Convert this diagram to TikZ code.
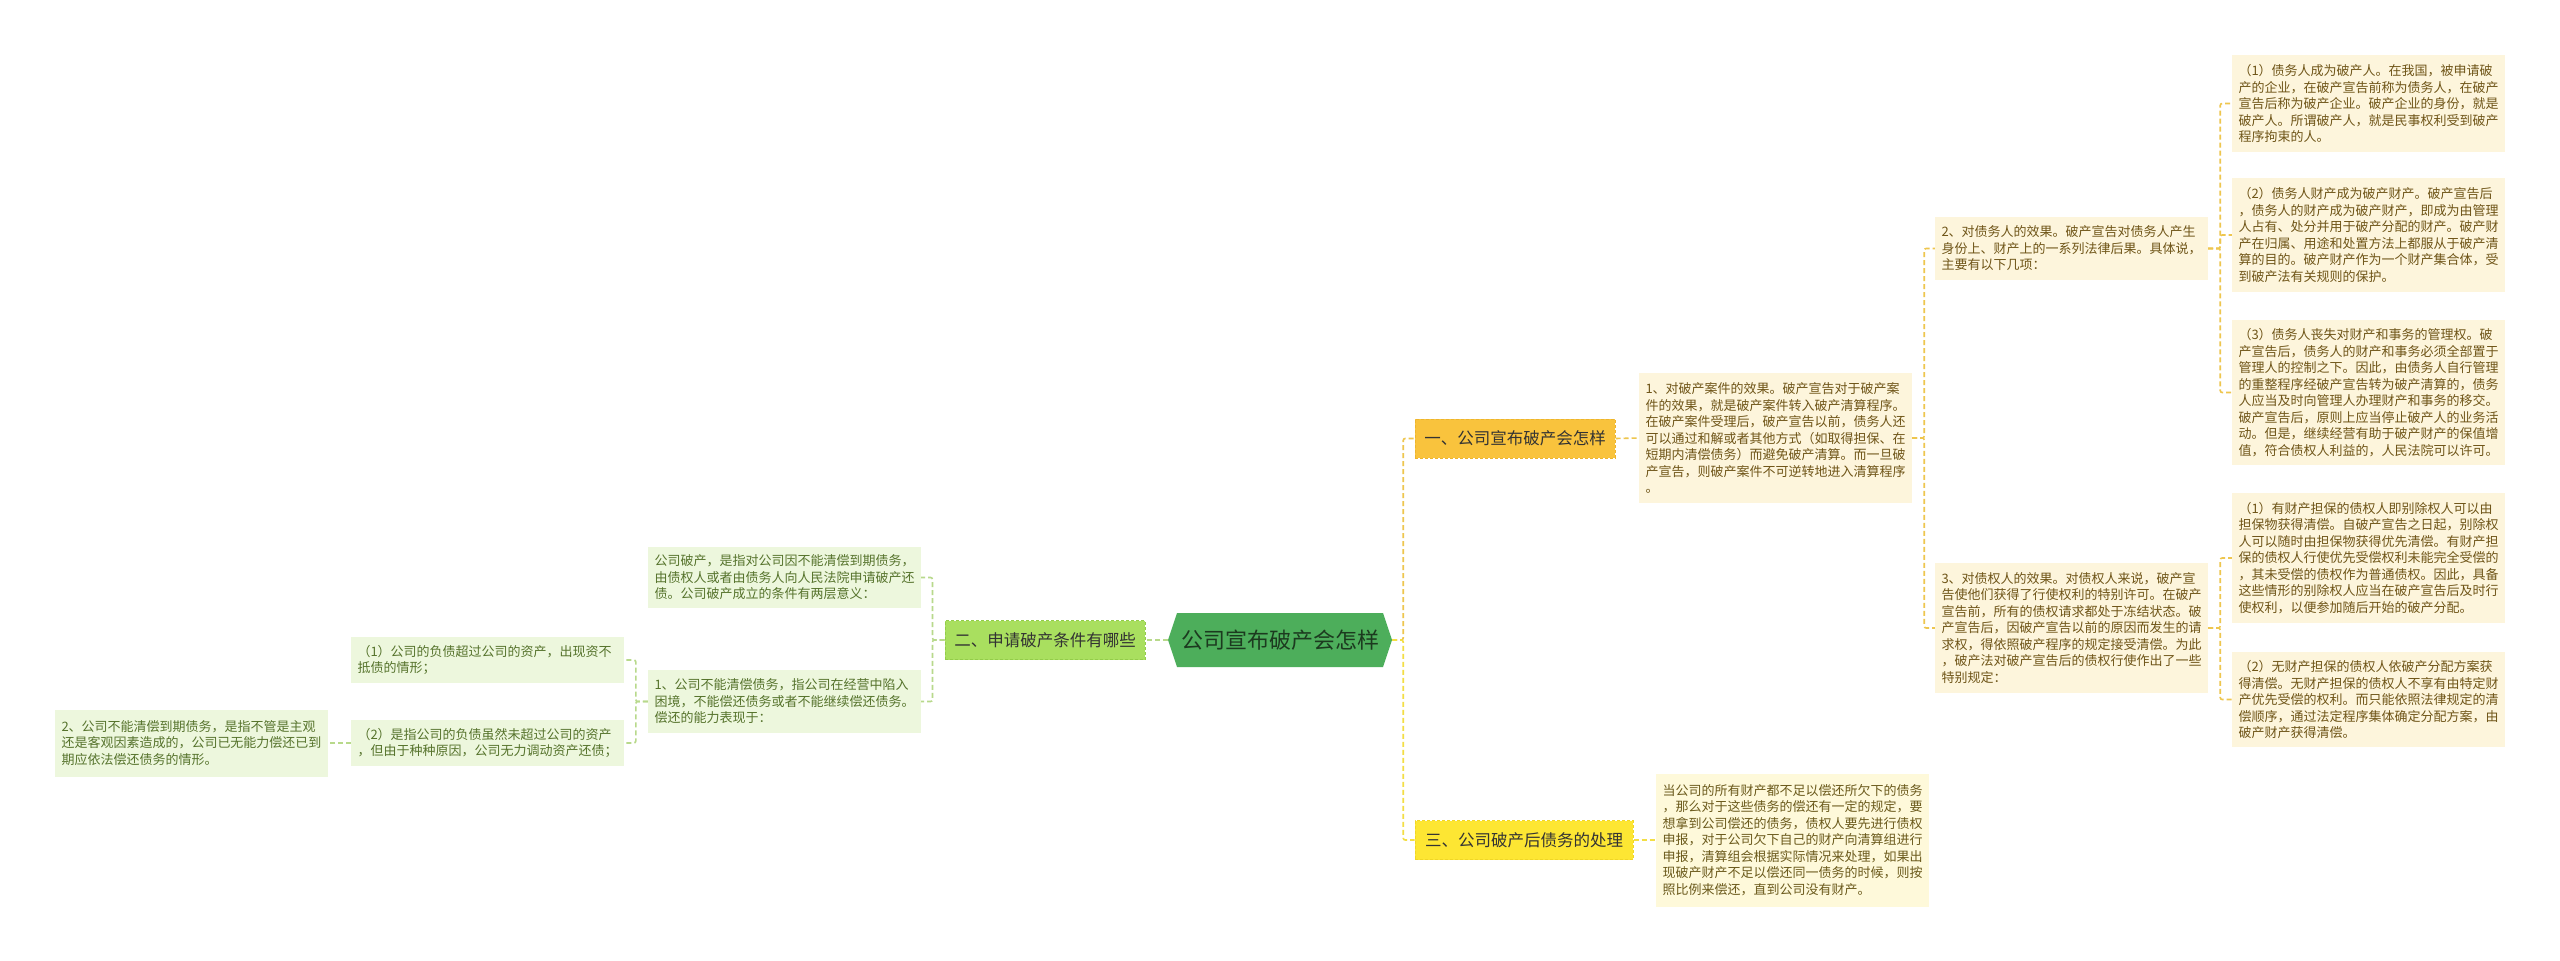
\documentclass[tikz,border=0pt]{standalone}
\usepackage{fontspec}
\setmainfont{Noto Sans CJK SC}
\definecolor{rootgreen}{HTML}{4DAE5B}
\definecolor{roottext}{HTML}{1C3A1F}
\definecolor{orangeY}{HTML}{F9C33D}
\definecolor{orangeB}{HTML}{EDB52E}
\definecolor{yellowF}{HTML}{FDE633}
\definecolor{yellowB}{HTML}{F0D626}
\definecolor{lgreen}{HTML}{A9DF5F}
\definecolor{lgreenB}{HTML}{93CC4A}
\definecolor{cream}{HTML}{FDF5DC}
\definecolor{creamtext}{HTML}{6F5518}
\definecolor{ycream}{HTML}{FEF9DA}
\definecolor{ycreamtext}{HTML}{6B5A1C}
\definecolor{pgreen}{HTML}{EDF7DD}
\definecolor{greentext}{HTML}{56732C}
\definecolor{lineO}{HTML}{EEC64E}
\definecolor{lineY}{HTML}{F3DE45}
\definecolor{lineG}{HTML}{B8D98B}
\begin{document}
\begin{tikzpicture}[x=1pt,y=-1pt,
  conn/.style={line width=1.6pt, dash pattern=on 5pt off 3pt, rounded corners=2pt},
  connO/.style={conn, draw=lineO},
  connY/.style={conn, draw=lineY},
  connG/.style={conn, draw=lineG},
  txtbox/.style={font=\fontsize{13}{16.5}\selectfont, text width=260pt, inner xsep=6.5pt, inner ysep=0pt, align=left, anchor=center},
  rbox/.style={txtbox, fill=cream, text=creamtext},
  ybox/.style={txtbox, fill=ycream, text=ycreamtext},
  gbox/.style={txtbox, fill=pgreen, text=greentext},
  branch/.style={font=\fontsize{16.5}{20}\selectfont, text=black!80, inner sep=0pt, minimum height=39pt, line width=1pt, dash pattern=on 3pt off 2pt},
  rootnode/.style={font=\fontsize{22}{26}\selectfont, text=roottext, inner sep=0pt, minimum width=224pt, minimum height=54pt}
]
\useasboundingbox (0,0) rectangle (2560,961);
\fill[white] (0,0) rectangle (2560,961);

% root hexagon
\fill[rootgreen] (1168,640) -- (1177,613) -- (1383,613) -- (1392,640) -- (1383,667) -- (1177,667) -- cycle;
\node[rootnode] (root) at (1280,640) {公司宣布破产会怎样};

% main branches
\node[branch, fill=orangeY, draw=orangeB, minimum width=200pt] (m1) at (1515,438.5) {一、公司宣布破产会怎样};
\node[branch, fill=lgreen, draw=lgreenB, minimum width=200pt] (m2) at (1045,640) {二、申请破产条件有哪些};
\node[branch, fill=yellowF, draw=yellowB, minimum width=218pt] (m3) at (1524,840) {三、公司破产后债务的处理};

% right side, branch one
\node[rbox, minimum height=130pt] (b1) at (1775.5,438) {1、对破产案件的效果。破产宣告对于破产案\\件的效果，就是破产案件转入破产清算程序。\\在破产案件受理后，破产宣告以前，债务人还\\可以通过和解或者其他方式（如取得担保、在\\短期内清偿债务）而避免破产清算。而一旦破\\产宣告，则破产案件不可逆转地进入清算程序\\。};
\node[rbox, minimum height=63pt] (b2) at (2071.5,248.5) {2、对债务人的效果。破产宣告对债务人产生\\身份上、财产上的一系列法律后果。具体说，\\主要有以下几项：};
\node[rbox, minimum height=130pt] (b3) at (2071.5,628) {3、对债权人的效果。对债权人来说，破产宣\\告使他们获得了行使权利的特别许可。在破产\\宣告前，所有的债权请求都处于冻结状态。破\\产宣告后，因破产宣告以前的原因而发生的请\\求权，得依照破产程序的规定接受清偿。为此\\，破产法对破产宣告后的债权行使作出了一些\\特别规定：};

\node[rbox, minimum height=97pt] (c1) at (2368.5,103.5) {（1）债务人成为破产人。在我国，被申请破\\产的企业，在破产宣告前称为债务人，在破产\\宣告后称为破产企业。破产企业的身份，就是\\破产人。所谓破产人，就是民事权利受到破产\\程序拘束的人。};
\node[rbox, minimum height=114pt] (c2) at (2368.5,235) {（2）债务人财产成为破产财产。破产宣告后\\，债务人的财产成为破产财产，即成为由管理\\人占有、处分并用于破产分配的财产。破产财\\产在归属、用途和处置方法上都服从于破产清\\算的目的。破产财产作为一个财产集合体，受\\到破产法有关规则的保护。};
\node[rbox, minimum height=145pt] (c3) at (2368.5,392.5) {（3）债务人丧失对财产和事务的管理权。破\\产宣告后，债务人的财产和事务必须全部置于\\管理人的控制之下。因此，由债务人自行管理\\的重整程序经破产宣告转为破产清算的，债务\\人应当及时向管理人办理财产和事务的移交。\\破产宣告后，原则上应当停止破产人的业务活\\动。但是，继续经营有助于破产财产的保值增\\值，符合债权人利益的，人民法院可以许可。};
\node[rbox, minimum height=130pt] (c4) at (2368.5,558) {（1）有财产担保的债权人即别除权人可以由\\担保物获得清偿。自破产宣告之日起，别除权\\人可以随时由担保物获得优先清偿。有财产担\\保的债权人行使优先受偿权利未能完全受偿的\\，其未受偿的债权作为普通债权。因此，具备\\这些情形的别除权人应当在破产宣告后及时行\\使权利，以便参加随后开始的破产分配。};
\node[rbox, minimum height=95pt] (c5) at (2368.5,699.5) {（2）无财产担保的债权人依破产分配方案获\\得清偿。无财产担保的债权人不享有由特定财\\产优先受偿的权利。而只能依照法律规定的清\\偿顺序，通过法定程序集体确定分配方案，由\\破产财产获得清偿。};

% right side, branch three
\node[ybox, minimum height=133pt] (t3) at (1792.5,840) {当公司的所有财产都不足以偿还所欠下的债务\\，那么对于这些债务的偿还有一定的规定，要\\想拿到公司偿还的债务，债权人要先进行债权\\申报，对于公司欠下自己的财产向清算组进行\\申报，清算组会根据实际情况来处理，如果出\\现破产财产不足以偿还同一债务的时候，则按\\照比例来偿还，直到公司没有财产。};

% left side
\node[gbox, minimum height=61pt] (l1) at (784.5,577.5) {公司破产，是指对公司因不能清偿到期债务，\\由债权人或者由债务人向人民法院申请破产还\\债。公司破产成立的条件有两层意义：};
\node[gbox, minimum height=63pt] (l2) at (784.5,701.5) {1、公司不能清偿债务，指公司在经营中陷入\\困境，不能偿还债务或者不能继续偿还债务。\\偿还的能力表现于：};
\node[gbox, minimum height=46pt] (l3) at (487.5,660) {（1）公司的负债超过公司的资产，出现资不\\抵债的情形；};
\node[gbox, minimum height=46pt] (l4) at (487.5,743) {（2）是指公司的负债虽然未超过公司的资产\\，但由于种种原因，公司无力调动资产还债；};
\node[gbox, minimum height=67pt] (l5) at (191.5,743) {2、公司不能清偿到期债务，是指不管是主观\\还是客观因素造成的，公司已无能力偿还已到\\期应依法偿还债务的情形。};

% connectors
\draw[connO] (root.east) -- ++(11,0) |- (m1.west);
\draw[connY] (root.east) -- ++(11,0) |- (m3.west);
\draw[connG] (root.west) -- (m2.east);

\draw[connO] (m1.east) -- (b1.west);
\draw[connO] (b1.east) -- ++(12,0) |- (b2.west);
\draw[connO] (b1.east) -- ++(12,0) |- (b3.west);
\draw[connO] (b2.east) -- ++(12,0) |- (c1.west);
\draw[connO] (b2.east) -- ++(12,0) |- (c2.west);
\draw[connO] (b2.east) -- ++(12,0) |- (c3.west);
\draw[connO] (b3.east) -- ++(12,0) |- (c4.west);
\draw[connO] (b3.east) -- ++(12,0) |- (c5.west);

\draw[connY] (m3.east) -- (t3.west);

\draw[connG] (m2.west) -- ++(-12,0) |- (l1.east);
\draw[connG] (m2.west) -- ++(-12,0) |- (l2.east);
\draw[connG] (l2.west) -- ++(-12,0) |- (l3.east);
\draw[connG] (l2.west) -- ++(-12,0) |- (l4.east);
\draw[connG] (l4.west) -- (l5.east);
\end{tikzpicture}
\end{document}
